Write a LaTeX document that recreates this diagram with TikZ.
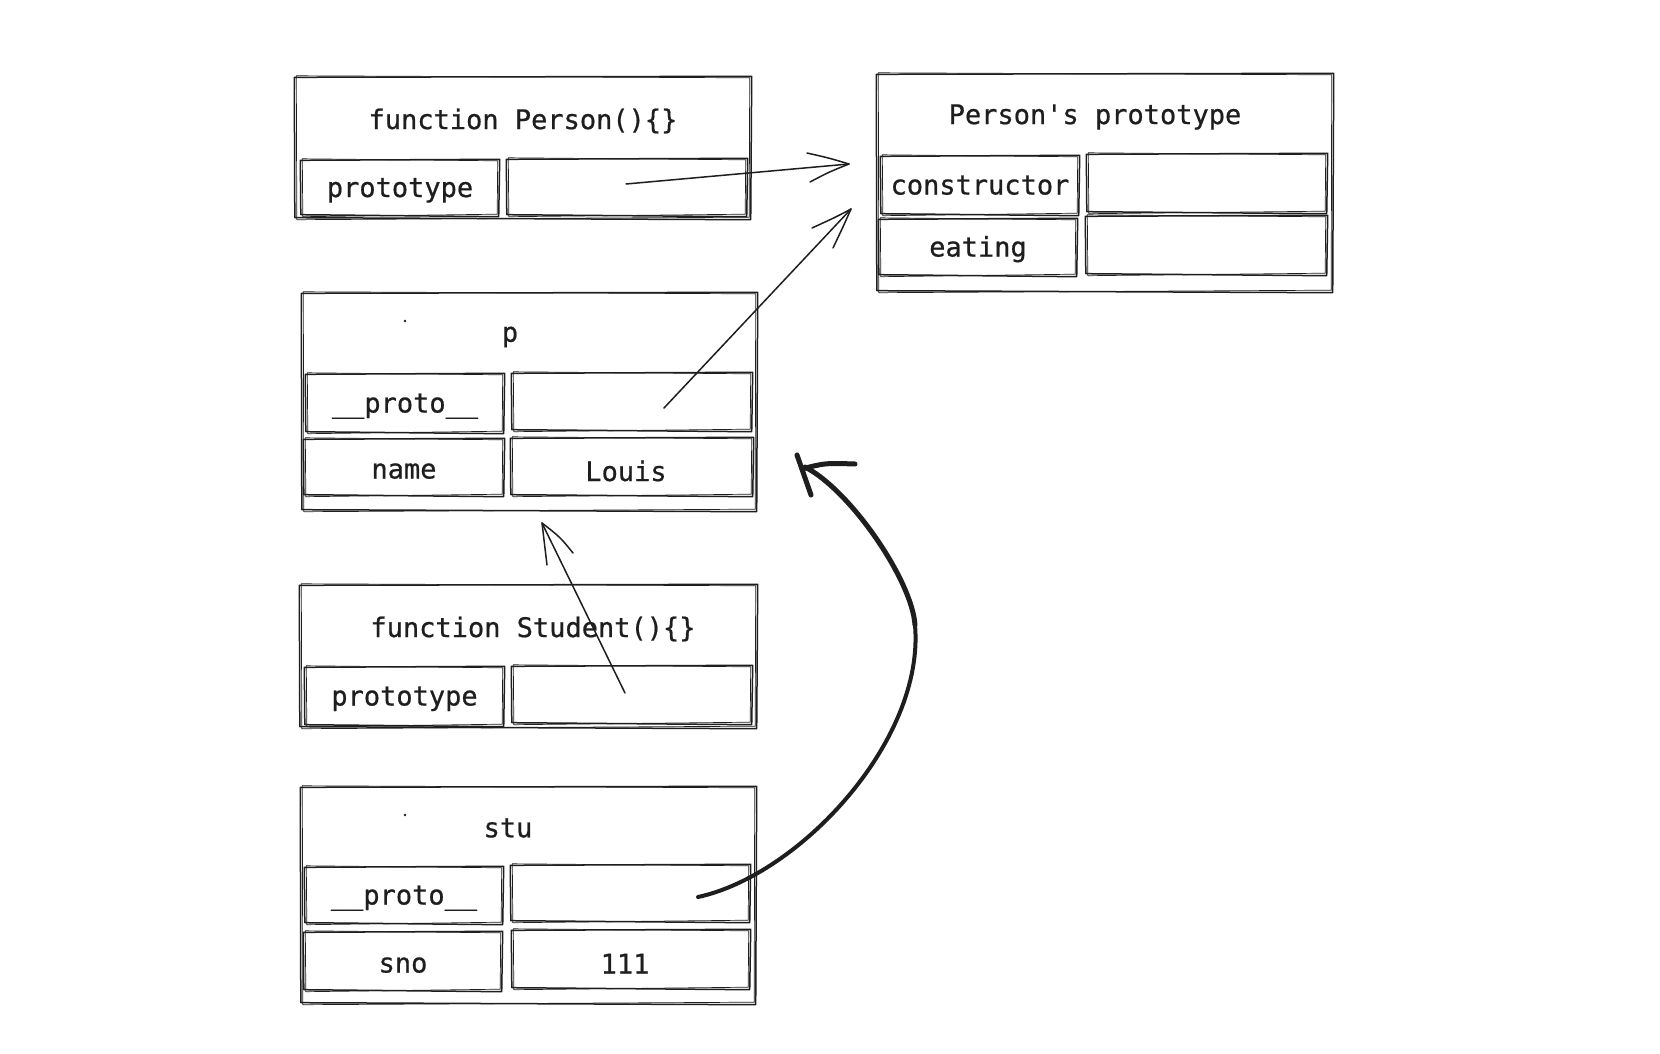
\documentclass[tikz,border=0pt]{standalone}
\usepackage{fontspec}
\newfontfamily\codefont[FakeBold=0.7]{DejaVu Sans Mono}
\definecolor{ink}{HTML}{1E1E1E}
\newcommand\skt[1]{%
  \draw[thinln] ([shift={(-1.5,0.5)}]#1.north west) -- ([shift={(1.5,-0.5)}]#1.north east) -- ([shift={(0.5,1.5)}]#1.south east) -- ([shift={(-1,-0.5)}]#1.south west) -- cycle;
  \draw[ink, line width=0.7pt, line join=round] ([shift={(0.5,-1)}]#1.north west) -- ([shift={(-0.5,1)}]#1.north east) -- ([shift={(-1,-1)}]#1.south east) -- ([shift={(1,1.5)}]#1.south west) -- cycle;}
\newcommand\cellbox[7][0]{%
  \node[cellst, minimum width={(#5-#3)*1pt}, minimum height={(#6-#4)*1pt}] (#2) at ({(#3+#5)/2},{(#4+#6)/2}) {};\skt{#2}
  \node[cellst] (#2-t) at ([yshift=#1]#2.center) {#7};}
\begin{document}
\begin{tikzpicture}[x=1pt,y=-1pt,
  cellst/.style={inner sep=0pt, font=\codefont\fontsize{27}{31}\selectfont, text=ink, text depth=0pt, text height=19pt},
  ttl/.style={inner sep=0pt, font=\codefont\fontsize{27}{31}\selectfont, text=ink},
  thinln/.style={draw=ink, line width=1.5pt, line cap=round, line join=round},
  thickln/.style={draw=ink, line width=4pt, line cap=round, line join=round}]
\fill[white] (0,0) rectangle (1660,1054);
\useasboundingbox (0,0) rectangle (1660,1054);

% Person
\cellbox{person}{296}{77}{750}{218}{}
\node[ttl] (t1) at (523,121) {function Person()\{\}};
\cellbox{pk}{302}{160}{498}{215}{prototype}
\cellbox{pv}{508}{159}{746}{215}{}

% Person's prototype
\cellbox{pp}{878}{74}{1332}{291}{}
\node[ttl] (t2) at (1095,117) {Person's prototype};
\cellbox{ck}{882}{156}{1078}{214}{constructor}
\cellbox{cv}{1088}{154}{1326}{212}{}
\cellbox{ek}{880}{219}{1076}{275}{eating}
\cellbox{ev}{1087}{216}{1326}{274}{}

% p
\cellbox{pobj}{303}{293}{756}{510}{}
\node[ttl] (t3) at (510,337) {p};
\cellbox{pk2}{307}{374}{503}{432}{\_\_proto\_\_}
\cellbox{pv2}{513}{373}{751}{430}{}
\cellbox[-2pt]{nk}{305}{439}{503}{495}{name}
\cellbox[-5pt]{nv}{512}{438}{752}{495}{\hspace*{-12pt}Louis}

% Student
\cellbox{student}{301}{585}{756}{727}{}
\node[ttl] (t4) at (533,629) {function Student()\{\}};
\cellbox{sk2}{306}{667}{503}{725}{prototype}
\cellbox{sv}{513}{666}{751}{723}{}

% stu
\cellbox{stu}{302}{787}{755}{1003}{}
\node[ttl] (t5) at (508,828) {stu};
\cellbox{uk}{306}{867}{502}{923}{\_\_proto\_\_}
\cellbox{uv}{512}{865}{749}{921}{}
\cellbox[-2pt]{nok}{305}{932}{501}{990}{sno}
\cellbox[-5pt]{nov}{513}{930}{749}{988}{\hspace*{-12pt}111}

% stray dots
\fill[ink] (405,321) circle (1.3);
\fill[ink] (405,815) circle (1.3);

% arrow 1: Person.prototype -> Person's prototype
\coordinate (a1s) at ([shift={(-1,-3)}]pv.center);
\coordinate (a1t) at (849,164);
\draw[thinln] (a1s) -- (a1t);
\draw[thinln] ([shift={(-42,-11)}]a1t) .. controls ([shift={(-20,-6)}]a1t) .. (a1t) .. controls ([shift={(-20,8)}]a1t) .. ([shift={(-39,18)}]a1t);

% arrow 2: p.__proto__ -> Person's prototype
\coordinate (a2s) at ([shift={(32,6.5)}]pv2.center);
\coordinate (a2t) at (851,209);
\draw[thinln] (a2s) -- (a2t);
\draw[thinln] ([shift={(-39,19)}]a2t) .. controls ([shift={(-15,8)}]a2t) .. (a2t) .. controls ([shift={(-8,18)}]a2t) .. ([shift={(-18,39)}]a2t);

% arrow 3: Student.prototype -> p
\coordinate (a3s) at ([shift={(-7,-1.5)}]sv.center);
\coordinate (a3t) at (542,523);
\draw[thinln] (a3s) -- (a3t);
\draw[thinln] ([shift={(5,42)}]a3t) -- (a3t) .. controls ([shift={(18,14)}]a3t) .. ([shift={(31,30)}]a3t);

% arrow 4: stu.__proto__ -> p (thick curve)
\coordinate (a4s) at ([shift={(67.5,4)}]uv.center);
\coordinate (a4t) at (805,467);
\coordinate (a4m) at (915,625);
\draw[thickln] (a4s) .. controls (800,875) and (925,740) .. (a4m);
\draw[thickln, line width=5pt] (a4m) .. controls (912,580) and (850,490) .. (a4t);
\draw[thickln, line width=5pt] ([shift={(-8,-12)}]a4t) -- ([shift={(6,28)}]a4t);
\draw[thickln, line width=5pt] ([shift={(-3,2)}]a4t) .. controls ([shift={(20,-4)}]a4t) .. ([shift={(50,-3)}]a4t);
\end{tikzpicture}
\end{document}
